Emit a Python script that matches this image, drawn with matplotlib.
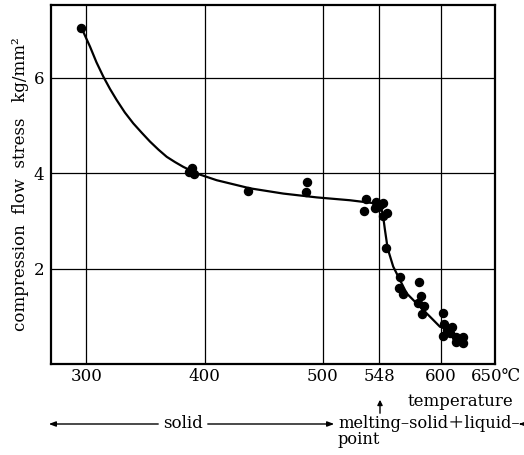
import matplotlib
matplotlib.use("Agg")
import matplotlib.pyplot as plt
import matplotlib.patches as mpatches

plt.rcParams['font.family'] = ['DejaVu Serif', 'DejaVu Sans', 'Noto Sans CJK JP']

# measured points: temperature (deg C) and compression flow stress (kg/mm^2)
temp_pts = [295.1, 386.9, 389.6, 391.3, 387.7, 437.1, 487.0, 485.9, 536.5, 535.0,
            545.2, 544.3, 548.6, 551.4, 554.3, 550.9, 547.1, 553.7,
            565.5, 564.7, 567.8, 581.6, 583.0, 581.0, 586.1, 583.9,
            602.2, 603.0, 602.2, 605.1, 609.3, 607.8, 612.9, 612.9, 618.6, 618.6]
stress_pts = [7.04, 4.02, 4.10, 3.98, 4.05, 3.62, 3.82, 3.61, 3.46, 3.20,
              3.39, 3.26, 3.33, 3.37, 3.17, 3.10, 3.29, 2.42,
              1.83, 1.59, 1.47, 1.72, 1.42, 1.27, 1.21, 1.04,
              1.06, 0.84, 0.59, 0.71, 0.78, 0.64, 0.47, 0.57, 0.57, 0.43]

# hand-drawn fit curve
curve_temp = [296.0, 303.0, 308.5, 314.3, 320.0, 325.6, 332.5, 339.7, 347.0, 353.8, 361.0,
              368.0, 375.0, 382.0, 393.4, 410.3, 438.5, 466.7, 495.0, 523.2, 542.9,
              547.0, 549.5, 550.9, 552.8, 555.1, 559.8, 565.5, 571.2, 582.4,
              591.0, 599.4, 603.6]
curve_stress = [7.03, 6.65, 6.32, 6.02, 5.76, 5.53, 5.27, 5.04, 4.84, 4.66, 4.49,
                4.34, 4.23, 4.13, 3.99, 3.85, 3.68, 3.57, 3.49, 3.43, 3.37,
                3.33, 3.26, 3.16, 2.81, 2.42, 2.04, 1.76, 1.48, 1.20,
                0.99, 0.78, 0.75]

x_ticks = [300, 400, 500, 548, 600]
x_ticklabels = ['300', '400', '500', '548', '600']
y_ticks = [2, 4, 6]
y_ticklabels = ['2', '4', '6']

W, H = 524, 455
FS = 12
fig = plt.figure(figsize=(W / 100, H / 100), dpi=100)
ax = fig.add_axes([51 / W, 1 - 364 / H, 444 / W, 359 / H])

ax.plot(curve_temp, curve_stress, color='black', lw=1.6, zorder=3)
ax.plot(temp_pts, stress_pts, 'o', color='black', ms=5.8, zorder=4)

ax.set_xlim(270, 646)
ax.set_ylim(0, 7.52)
ax.set_xticks(x_ticks)
ax.set_xticklabels(x_ticklabels)
ax.set_yticks(y_ticks)
ax.set_yticklabels(y_ticklabels)
ax.tick_params(length=0, labelsize=FS)
ax.tick_params(axis='x', pad=3)
ax.tick_params(axis='y', pad=5)
ax.grid(True, color='black', lw=0.9)
for s in ax.spines.values():
    s.set_linewidth(1.6)


def fx(px):
    return px / W


def fy(py):
    return 1 - py / H


fig.text(fx(521), fy(381), '650\u2103', ha='right', va='baseline', fontsize=FS)

ax.set_ylabel('compression  flow  stress   kg/mm\u00b2', fontsize=FS, labelpad=3)

fig.text(fx(460), fy(406), 'temperature', ha='center', va='baseline', fontsize=FS)

# melting point marker
fig.add_artist(mpatches.FancyArrowPatch((fx(380), fy(416)), (fx(380), fy(397)),
               transform=fig.transFigure, arrowstyle='-|>,head_length=3,head_width=1.5',
               color='black', lw=1.0))

# solid arrow row
fig.add_artist(mpatches.FancyArrowPatch((fx(161), fy(424)), (fx(46), fy(424)),
               transform=fig.transFigure, arrowstyle='-|>,head_length=4,head_width=1.5',
               color='black', lw=1.0))
fig.text(fx(183), fy(427.5), 'solid', ha='center', va='baseline', fontsize=FS)
fig.add_artist(mpatches.FancyArrowPatch((fx(205), fy(424)), (fx(337), fy(424)),
               transform=fig.transFigure, arrowstyle='-|>,head_length=4,head_width=1.5',
               color='black', lw=1.0))
fig.text(fx(338), fy(427.5), 'melting\u2013solid\uff0bliquid\u2013', ha='left', va='baseline',
         fontsize=11.7)
fig.add_artist(mpatches.FancyArrowPatch((fx(524), fy(424)), (fx(516), fy(424)),
               transform=fig.transFigure, arrowstyle='-|>,head_length=4,head_width=1.5',
               color='black', lw=1.0))
fig.text(fx(338), fy(444), 'point', ha='left', va='baseline', fontsize=11.7)

fig.savefig('out.png', dpi=100)
